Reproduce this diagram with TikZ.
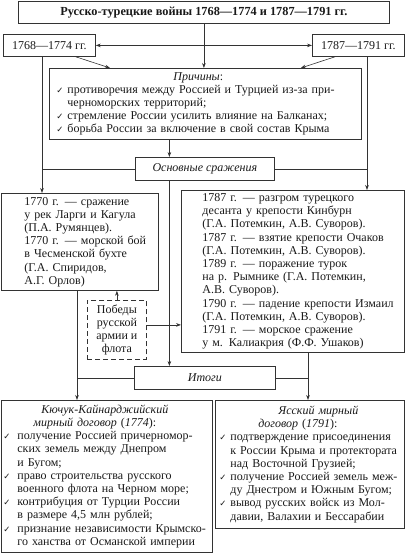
\documentclass[tikz,border=0pt]{standalone}
\usepackage{fontspec}
\setmainfont{Liberation Serif}
\newfontfamily\symfont{DejaVu Sans}
\usetikzlibrary{arrows.meta}

\colorlet{ink}{black!80}
\newcommand{\chk}[1][11pt]{\makebox[#1][l]{\symfont\fontsize{8.5}{8}\selectfont ✓}}
\newcommand{\cont}[1][11pt]{\hspace*{#1}}

\tikzset{
  frame/.style={draw=ink, line width=0.8pt, anchor=north west, align=left,
    inner ysep=0pt, text=black!90, font=\fontsize{12}{13.2}\selectfont},
  arr/.style={-{Stealth[length=5pt,width=3.6pt]}, draw=ink, line width=0.6pt},
  link/.style={draw=ink, line width=0.6pt}
}

\begin{document}
\begin{tikzpicture}[x=1pt, y=-1pt]
  \useasboundingbox (0,0) rectangle (407,553);

  % Title and the two wars
  \node[frame, align=center, inner xsep=0pt, minimum width=371pt, minimum height=22pt,
    font=\fontsize{12.3}{15}\selectfont\bfseries] (title) at (18,1)
    {Русско-турецкие войны 1768—1774 и 1787—1791 гг.};
  \node[frame, align=center, inner xsep=0pt, minimum width=92pt, minimum height=22pt] (y68) at (3,34) {1768—1774 гг.};
  \node[frame, align=center, inner xsep=0pt, minimum width=92pt, minimum height=22pt] (y87) at (312,34) {1787—1791 гг.};

  % Causes
  \node[frame, inner xsep=7pt, text width=298pt, minimum height=71pt] (causes) at (49,68)
    {\hspace*{117pt}{\itshape Причины}:\\
     \chk противоречия между Россией и Турцией из-за при-\\
     \cont черноморских территорий;\\
     \chk стремление России усилить влияние на Балканах;\\
     \chk борьба России за включение в свой состав Крыма};

  \node[frame, align=center, inner xsep=0pt, minimum width=139pt, minimum height=23pt] (osn) at (135,157)
    {\itshape Основные сражения};

  % Battles
  \node[frame, inner xsep=0pt, text width=157pt, minimum height=97pt] (battlesL) at (1,193)
    {\leftskip=23pt
     1770 г. — сражение\\
     у рек Ларги и Кагула\\
     (П.А. Румянцев).\\
     1770 г. — морской бой\\
     в Чесменской бухте\\
     (Г.А. Спиридов,\\
     А.Г. Орлов)\par};
  \node[frame, inner xsep=5pt, text width=213pt, minimum height=162pt] (battlesR) at (181,190)
    {\leftskip=16pt
     1787 г. — разгром турецкого\\
     десанта у крепости Кинбурн\\
     (Г.А. Потемкин, А.В. Суворов).\\
     1787 г. — взятие крепости Очаков\\
     (Г.А. Потемкин, А.В. Суворов).\\
     1789 г. — поражение турок\\
     на р. Рымнике (Г.А. Потемкин,\\
     А.В. Суворов).\\
     1790 г. — падение крепости Измаил\\
     (Г.А. Потемкин, А.В. Суворов).\\
     1791 г. — морское сражение\\
     у м. Калиакрия (Ф.Ф. Ушаков)\par};

  \node[frame, dash pattern=on 5pt off 3pt, align=center, inner xsep=0pt, minimum width=59pt, minimum height=59pt] (wins) at (87,300)
    {Победы\\русской\\армии и\\флота};

  \node[frame, align=center, inner xsep=0pt, minimum width=141pt, minimum height=23pt] (itogi) at (134,366)
    {\itshape Итоги};

  % Peace treaties
  \node[frame, inner xsep=2pt, text width=207pt, minimum height=152pt] (treatyL) at (1,400)
    {\hspace*{38pt}{\itshape Кючук-Кайнарджийский}\\
     \hspace*{30pt}{\itshape мирный договор} (\textit{1774}):\\
     \chk[14pt]получение Россией причерномор-\\
     \cont[14pt]ских земель между Днепром\\
     \cont[14pt]и Бугом;\\
     \chk[14pt]право строительства русского\\
     \cont[14pt]военного флота на Черном море;\\
     \chk[14pt]контрибуция от Турции России\\
     \cont[14pt]в размере 4,5 млн рублей;\\
     \chk[14pt]признание независимости Крымско-\\
     \cont[14pt]го ханства от Османской империи};
  \node[frame, inner xsep=4pt, text width=181pt, minimum height=128pt] (treatyR) at (215,400)
    {\hspace*{59pt}{\itshape Ясский мирный}\\
     \hspace*{39pt}{\itshape договор} (\textit{1791}):\\
     \chk подтверждение присоединения\\
     \cont к России Крыма и протектората\\
     \cont над Восточной Грузией;\\
     \chk получение Россией земель меж-\\
     \cont ду Днестром и Южным Бугом;\\
     \chk вывод русских войск из Мол-\\
     \cont давии, Валахии и Бессарабии};

  % Connectors
  \coordinate (lv) at ([xshift=39pt]y68.south west);
  \coordinate (rv) at ([xshift=55pt]y87.south west);
  \coordinate (sp) at ([xshift=-35.5pt]osn.north);
  \coordinate (lt) at ([xshift=76pt]battlesL.south west);
  \coordinate (rt) at ([xshift=127pt]battlesR.south west);

  \draw[arr] (title.south) -- (title.south |- causes.north);
  \draw[arr, {Stealth[length=5pt,width=3.6pt]}-{Stealth[length=5pt,width=3.6pt]}] (y68.east) -- (y87.west);
  \draw[arr] ([xshift=-20pt]y68.south east) -- ([xshift=61pt]causes.north west);
  \draw[arr] ([xshift=23pt]y87.south west) -- ([xshift=-61pt]causes.north east);
  \draw[arr] (lv) -- (lv |- battlesL.north);
  \draw[arr] (rv) -- (rv |- battlesR.north);
  \draw[arr] (sp |- causes.south) -- (sp);
  \draw[link] (osn.west) -- (lv |- osn.west);
  \draw[link] (osn.east) -- (rv |- osn.east);
  \draw[arr] (sp |- osn.south) -- (sp |- itogi.north);
  \draw[arr] (wins.north) -- (wins.north |- battlesL.south);
  \draw[arr] ([yshift=5pt]wins.east) -- ([yshift=5pt]wins.east -| battlesR.west);
  \draw[arr] (lt) -- (lt |- treatyL.north);
  \draw[arr] (rt) -- (rt |- treatyR.north);
  \draw[link] (itogi.west) -- (lt |- itogi.west);
  \draw[link] (itogi.east) -- (rt |- itogi.east);
\end{tikzpicture}
\end{document}
